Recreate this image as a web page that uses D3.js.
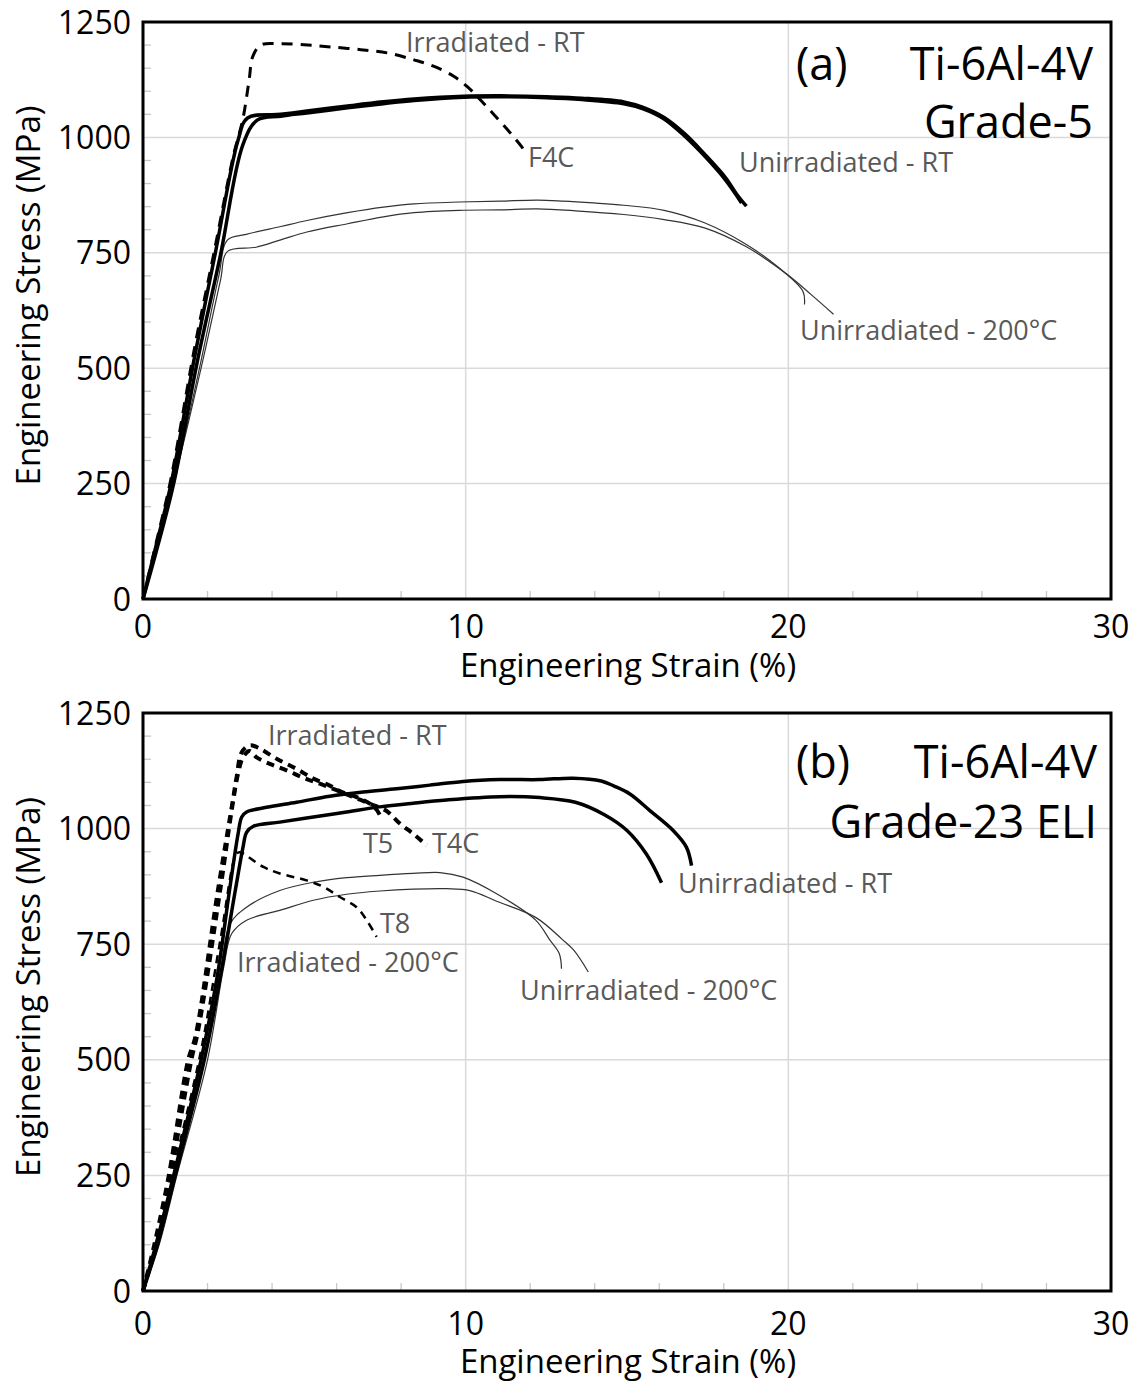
<!DOCTYPE html>
<html>
<head>
<meta charset="utf-8">
<script src="https://cdn.jsdelivr.net/npm/d3@7"></script>
<style>
    body { margin: 0; background: #fff; }
    svg text { font-family: "Open Sans", "Noto Sans", sans-serif; }
</style>
</head>
<body>
<div id="chart"></div>
<script>
// tick values
const xTicks = [0, 10, 20, 30];
const yTicks = [0, 250, 500, 750, 1000, 1250];
const xMinor = [2, 4, 6, 8, 12, 14, 16, 18, 22, 24, 26, 28];
const yMinor = [50, 100, 150, 200, 300, 350, 400, 450, 550, 600, 650, 700, 800, 850, 900, 950, 1050, 1100, 1150, 1200];

// (a) Grade-5 curves : [strain %, stress MPa]
const g5IrrRT_F4C = [[0,0],[0.35,105],[0.85,255],[1.6,545],[2.2,750],[2.8,960],[3.09,1038],[3.29,1125],[3.4,1175],[3.65,1200],[4.27,1203],[5.1,1200],[5.82,1196],[6.75,1190],[7.58,1183],[8.4,1168],[9.02,1154],[9.64,1132],[10.05,1110],[10.46,1081],[10.88,1049],[11.39,1009],[11.8,973],[11.85,962]];
const g5UnirrRT_1 = [[0,0],[0.35,100],[0.87,250],[1.6,525],[2.24,749],[2.95,995],[3.24,1042],[4.27,1050],[5.08,1057],[6.34,1068],[7.45,1077],[8.4,1083],[9.95,1089],[11.1,1090],[12.5,1088],[13.6,1085],[14.9,1077],[15.5,1065],[16.15,1043],[16.8,1007],[17.4,964],[18.05,913],[18.4,877],[18.7,851]];
const g5UnirrRT_2 = [[0,0],[0.4,100],[0.95,250],[1.7,520],[2.4,745],[3.1,985],[3.55,1038],[4.27,1046],[5.08,1053],[6.34,1064],[7.45,1073],[8.4,1080],[9.95,1087],[11.1,1088],[12.5,1086],[13.6,1082],[14.9,1073],[15.5,1062],[16.15,1040],[16.8,1002],[17.4,960],[18.05,908],[18.55,858]];
const g5Unirr200_1 = [[0,0],[0.4,100],[0.95,250],[1.75,500],[2.35,700],[2.62,778],[3.2,790],[4.27,807],[5.08,820],[6.34,837],[7.45,849],[8.4,856],[9.8,860],[11.08,862],[12.22,864],[13.0,862],[13.96,858],[14.9,853],[16.15,842],[17.4,815],[18.7,768],[19.7,718],[20.45,667],[20.5,638]];
const g5Unirr200_2 = [[0,0],[0.4,100],[0.95,250],[1.8,500],[2.4,690],[2.62,753],[3.5,762],[4.27,778],[5.08,795],[6.34,813],[7.45,828],[8.4,837],[9.8,842],[11.08,843],[12.22,845],[13.4,841],[14.9,833],[16.15,822],[17.4,804],[18.7,763],[19.95,704],[20.7,660],[21.4,617]];

// (b) Grade-23 ELI curves
const g23IrrRT_T5 = [[0,0],[0.35,100],[0.8,250],[1.4,500],[1.62,549],[2.32,866],[2.8,1068],[2.9,1111],[3.06,1165],[3.31,1180],[3.62,1173],[4.14,1151],[4.76,1129],[5.28,1108],[5.79,1093],[6.1,1081],[6.62,1068],[7.03,1054],[7.25,1040],[7.39,1021]];
const g23IrrRT_T4C = [[0,0],[0.4,100],[0.85,250],[1.5,500],[1.7,560],[2.4,870],[2.75,1040],[2.95,1120],[3.1,1154],[3.3,1168],[3.52,1154],[3.93,1140],[4.45,1126],[4.97,1110],[5.48,1097],[6.0,1083],[6.52,1068],[7.03,1054],[7.55,1038],[7.96,1011],[8.37,989],[8.79,964]];
const g23Irr200_T8 = [[0,0],[0.4,100],[0.9,250],[1.8,520],[2.4,760],[2.9,946],[3.0,949],[3.73,917],[4.24,903],[5.07,888],[5.59,874],[6.1,852],[6.62,830],[6.93,802],[7.24,766]];
const g23UnirrRT_1 = [[0,0],[0.4,100],[0.95,250],[1.8,500],[2.3,680],[2.68,866],[2.95,990],[3.06,1025],[3.21,1036],[3.83,1046],[4.76,1057],[5.79,1070],[6.82,1079],[7.86,1086],[8.89,1094],[9.92,1102],[11.06,1106],[12.3,1106],[13.33,1109],[14.2,1103],[14.6,1092],[15.09,1075],[15.71,1039],[16.43,996],[16.84,960],[17.0,920]];
const g23UnirrRT_2 = [[0,0],[0.45,100],[1.0,250],[1.9,500],[2.45,700],[2.86,866],[3.1,960],[3.21,992],[3.42,1005],[4.24,1014],[5.28,1025],[6.31,1036],[7.34,1047],[8.37,1055],[9.41,1062],[11.06,1069],[12.3,1067],[13.4,1057],[14.3,1030],[15.0,996],[15.6,945],[16.07,883]];
const g23Unirr200_1 = [[0,0],[0.45,100],[1.0,250],[1.9,500],[2.4,690],[2.7,794],[3.21,830],[4.24,866],[5.28,884],[6.31,894],[7.34,899],[8.37,903],[9.2,905],[9.92,895],[10.96,859],[12.17,802],[12.6,760],[12.9,730],[12.97,697]];
const g23Unirr200_2 = [[0,0],[0.5,100],[1.05,250],[2.0,500],[2.5,700],[2.75,773],[3.21,802],[4.24,823],[5.28,845],[6.31,858],[7.34,865],[8.37,869],[9.41,870],[10.13,866],[10.96,843],[12.17,808],[13.0,760],[13.35,737],[13.8,690]];

const width = 1141, height = 1385;
const svg = d3.select("#chart").append("svg")
    .attr("width", width)
    .attr("height", height);

const x = d3.scaleLinear().domain([0, 30]).range([143, 1111]);

const thick = {stroke: "#000", width: 3.5, dash: null};
const thin = {stroke: "#333", width: 1.2, dash: null};

function drawPanel(p) {
    const y = d3.scaleLinear().domain([0, 1250]).range([p.y0, p.y1]);
    const g = svg.append("g");

    // grid
    g.selectAll(".gx").data([10, 20]).join("line")
        .attr("x1", d => x(d)).attr("x2", d => x(d))
        .attr("y1", y(0)).attr("y2", y(1250))
        .attr("stroke", "#d9d9d9").attr("stroke-width", 1.5);
    g.selectAll(".gy").data([250, 500, 750, 1000]).join("line")
        .attr("x1", x(0)).attr("x2", x(30))
        .attr("y1", d => y(d)).attr("y2", d => y(d))
        .attr("stroke", "#d9d9d9").attr("stroke-width", 1.5);

    // minor ticks, pointing inside
    g.selectAll(".mx").data(xMinor).join("line")
        .attr("x1", d => x(d)).attr("x2", d => x(d))
        .attr("y1", y(0)).attr("y2", y(0) - 8)
        .attr("stroke", "#c8c8c8").attr("stroke-width", 1.3);
    g.selectAll(".my").data(yMinor).join("line")
        .attr("x1", x(0)).attr("x2", x(0) + 8)
        .attr("y1", d => y(d)).attr("y2", d => y(d))
        .attr("stroke", "#c8c8c8").attr("stroke-width", 1.3);

    // curves
    const line = d3.line()
        .x(d => x(d[0]))
        .y(d => y(d[1]))
        .curve(d3.curveCatmullRom.alpha(0.5));
    for (const c of p.curves) {
        g.append("path")
            .attr("d", line(c.data))
            .attr("fill", "none")
            .attr("stroke", c.style.stroke)
            .attr("stroke-width", c.style.width)
            .attr("stroke-dasharray", c.style.dash)
            .attr("stroke-linejoin", "round");
    }

    // frame
    g.append("rect")
        .attr("x", x(0)).attr("y", y(1250))
        .attr("width", x(30) - x(0)).attr("height", y(0) - y(1250))
        .attr("fill", "none").attr("stroke", "#000").attr("stroke-width", 3);

    // tick labels
    g.selectAll(".ty").data(yTicks).join("text")
        .attr("x", 131).attr("y", d => y(d))
        .attr("dy", "0.36em")
        .attr("text-anchor", "end")
        .attr("font-size", 32)
        .text(d => d);
    g.selectAll(".tx").data(xTicks).join("text")
        .attr("x", d => x(d)).attr("y", p.tickY)
        .attr("text-anchor", "middle")
        .attr("font-size", 32)
        .text(d => d);

    // axis titles
    g.append("text")
        .attr("x", 628).attr("y", p.titleY)
        .attr("text-anchor", "middle")
        .attr("font-size", 33)
        .text("Engineering Strain (%)");
    g.append("text")
        .attr("transform", `translate(40,${(p.y0 + p.y1) / 2 - 15}) rotate(-90)`)
        .attr("text-anchor", "middle")
        .attr("font-size", 33)
        .text("Engineering Stress (MPa)");

    // curve labels
    g.selectAll(".lab").data(p.labels).join("text")
        .attr("x", d => d.x).attr("y", d => d.y)
        .attr("font-size", 27)
        .attr("fill", "#595959")
        .text(d => d.t);

    // panel title
    g.selectAll(".pt").data(p.title).join("text")
        .attr("x", d => d.x).attr("y", d => d.y)
        .attr("text-anchor", d => d.anchor)
        .attr("font-size", 45)
        .text(d => d.t);
}

drawPanel({
    y0: 599, y1: 22, tickY: 638, titleY: 677,
    curves: [
        {data: g5Unirr200_1, style: thin},
        {data: g5Unirr200_2, style: thin},
        {data: g5UnirrRT_1, style: thick},
        {data: g5UnirrRT_2, style: thick},
        {data: g5IrrRT_F4C, style: {stroke: "#000", width: 3, dash: "11,8"}}
    ],
    labels: [
        {t: "Irradiated - RT", x: 406, y: 52},
        {t: "F4C", x: 528, y: 167},
        {t: "Unirradiated - RT", x: 739, y: 172},
        {t: "Unirradiated - 200°C", x: 800, y: 340}
    ],
    title: [
        {t: "(a)", x: 796, y: 80, anchor: "start"},
        {t: "Ti-6Al-4V", x: 1093, y: 80, anchor: "end"},
        {t: "Grade-5", x: 1093, y: 138, anchor: "end"}
    ]
});

drawPanel({
    y0: 1291, y1: 713, tickY: 1335, titleY: 1373,
    curves: [
        {data: g23Unirr200_1, style: thin},
        {data: g23Unirr200_2, style: thin},
        {data: g23UnirrRT_1, style: thick},
        {data: g23UnirrRT_2, style: thick},
        {data: g23Irr200_T8, style: {stroke: "#000", width: 2.5, dash: "8,6"}},
        {data: g23IrrRT_T5, style: {stroke: "#000", width: 4, dash: "8,6"}},
        {data: g23IrrRT_T4C, style: {stroke: "#000", width: 4, dash: "8,6"}}
    ],
    labels: [
        {t: "Irradiated - RT", x: 268, y: 745},
        {t: "T5", x: 363, y: 853},
        {t: "T4C", x: 432, y: 853},
        {t: "T8", x: 380, y: 933},
        {t: "Irradiated - 200°C", x: 237, y: 972},
        {t: "Unirradiated - RT", x: 678, y: 893},
        {t: "Unirradiated - 200°C", x: 520, y: 1000}
    ],
    title: [
        {t: "(b)", x: 796, y: 778, anchor: "start"},
        {t: "Ti-6Al-4V", x: 1097, y: 778, anchor: "end"},
        {t: "Grade-23 ELI", x: 1097, y: 838, anchor: "end"}
    ]
});
</script>
</body>
</html>
